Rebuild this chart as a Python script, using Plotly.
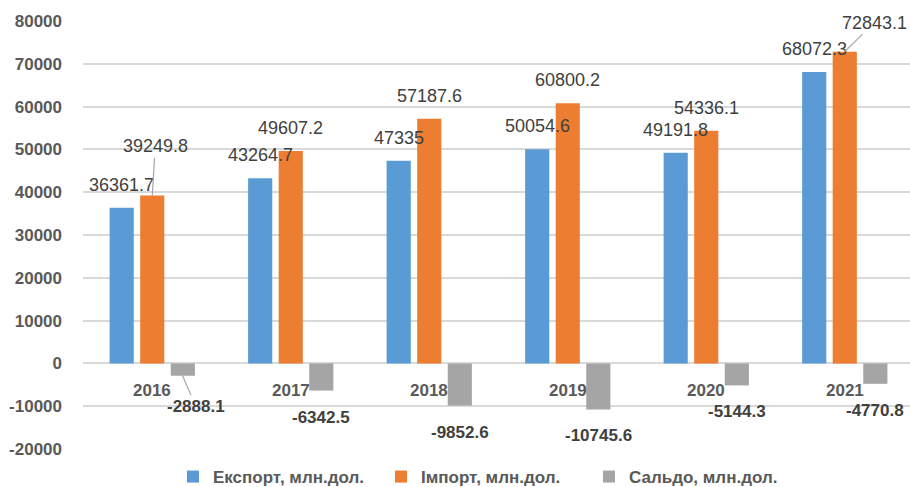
import plotly.graph_objects as go

years = ["2016", "2017", "2018", "2019", "2020", "2021"]
export_vals = [36361.7, 43264.7, 47335, 50054.6, 49191.8, 68072.3]
import_vals = [39249.8, 49607.2, 57187.6, 60800.2, 54336.1, 72843.1]
saldo_vals = [-2888.1, -6342.5, -9852.6, -10745.6, -5144.3, -4770.8]
series_names = ["Експорт, млн.дол.", "Імпорт, млн.дол.", "Сальдо, млн.дол."]
y_ticks = [-20000, -10000, 0, 10000, 20000, 30000, 40000, 50000, 60000, 70000, 80000]

colors = ["#5B9BD5", "#ED7D31", "#A5A5A5"]
FONT = "Liberation Sans, Arial, sans-serif"
LABEL_COLOR = "#404040"
AXIS_COLOR = "#595959"

# leader-line labels: (ax, ay) pixel offsets of the text from the bar end
lead_import = {0: (3, -49), 5: (29.5, -29)}
lead_saldo = {0: (13, 30.6)}

fig = go.Figure()
for name, vals, col in zip(series_names, [export_vals, import_vals, saldo_vals], colors):
    fig.add_trace(go.Bar(x=years, y=vals, name=name, marker=dict(color=col, line=dict(width=0))))

def fmt(v):
    s = f"{v}"
    return s[:-2] if s.endswith(".0") else s

annotations = []
LBL = dict(family=FONT, size=18, color=LABEL_COLOR)
NEG = dict(family=FONT, size=17, color=LABEL_COLOR)
for i, y in enumerate(years):
    annotations.append(dict(x=i, y=export_vals[i], xref="x", yref="y", text=fmt(export_vals[i]),
                            showarrow=False, xshift=-30.5, yshift=23, yanchor="middle", xanchor="center",
                            font=LBL))
    if i in lead_import:
        ax, ay = lead_import[i]
        annotations.append(dict(x=i, y=import_vals[i], xref="x", yref="y", text=fmt(import_vals[i]),
                                showarrow=True, ax=ax, ay=ay, arrowhead=0, arrowwidth=1.2,
                                arrowcolor="#A6A6A6", standoff=0, font=LBL))
    else:
        annotations.append(dict(x=i, y=import_vals[i], xref="x", yref="y", text=fmt(import_vals[i]),
                                showarrow=False, xshift=0, yshift=23, yanchor="middle", xanchor="center",
                                font=LBL))
    if i in lead_saldo:
        ax, ay = lead_saldo[i]
        annotations.append(dict(x=i, y=saldo_vals[i], xref="x", yref="y", text="<b>" + fmt(saldo_vals[i]) + "</b>",
                                showarrow=True, ax=ax, ay=ay, xshift=30.4, arrowhead=0, arrowwidth=1.2,
                                arrowcolor="#A6A6A6", standoff=0, font=NEG))
    else:
        annotations.append(dict(x=i, y=saldo_vals[i], xref="x", yref="y", text="<b>" + fmt(saldo_vals[i]) + "</b>",
                                showarrow=False, xshift=30.5, yshift=-26.5, yanchor="middle", xanchor="center",
                                font=NEG))
    annotations.append(dict(x=i, y=0, xref="x", yref="y", text="<b>" + y + "</b>", showarrow=False,
                            yshift=-27, yanchor="middle", xanchor="center",
                            font=dict(family=FONT, size=17, color=AXIS_COLOR)))

fig.update_layout(
    width=910, height=487,
    margin=dict(l=83, r=0, t=21, b=38),
    paper_bgcolor="white", plot_bgcolor="white",
    barmode="group", bargap=0.338, bargroupgap=0.21,
    annotations=annotations,
    showlegend=True,
    legend=dict(orientation="h", x=0.1088, xanchor="left", yref="container", y=0.0205, yanchor="middle",
                font=dict(family=FONT, size=17, color=AXIS_COLOR, weight="bold"),
                itemwidth=30, tracegroupgap=0, entrywidth=163, entrywidthmode="pixels"),
    xaxis=dict(type="category", showticklabels=False, showgrid=False, zeroline=False, showline=False,
               range=[-0.5, 5.471]),
    yaxis=dict(range=[-20000, 80000], tickvals=y_ticks, ticktext=[str(t) for t in y_ticks],
               showgrid=True, gridcolor="#D9D9D9", gridwidth=1.5,
               zeroline=True, zerolinecolor="#D9D9D9", zerolinewidth=1.5,
               showline=False, ticklabelstandoff=20,
               tickfont=dict(family=FONT, size=17, color=AXIS_COLOR, weight="bold")),
)

fig.write_html("out.html", config={"displayModeBar": False},
               post_script="document.body.style.margin='0';")
